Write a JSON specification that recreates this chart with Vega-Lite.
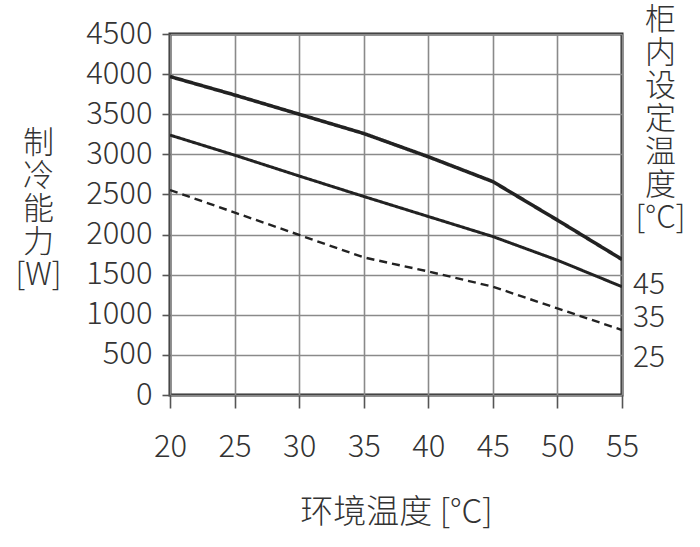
{
  "$schema": "https://vega.github.io/schema/vega-lite/v6.json",
  "width": 452,
  "height": 361,
  "autosize": "none",
  "padding": {"left": 170, "top": 34, "right": 78, "bottom": 152},
  "background": "white",
  "config": {
    "font": "Noto Sans CJK SC",
    "view": {"stroke": "#2b2b2b", "strokeWidth": 3},
    "axis": {
      "labelFont": "Noto Sans CJK SC",
      "titleFont": "Noto Sans CJK SC",
      "labelColor": "#333333",
      "titleColor": "#333333",
      "titleFontWeight": 300,
      "labelFontWeight": 300,
      "gridColor": "#8a8a8a",
      "gridWidth": 1.6,
      "gridOpacity": 1,
      "tickColor": "#555555",
      "tickWidth": 1.6,
      "domain": false
    }
  },
  "layer": [
    {
      "data": {
        "values": [
          {"t": 20, "w": 3970, "s": "45"},
          {"t": 25, "w": 3740, "s": "45"},
          {"t": 30, "w": 3500, "s": "45"},
          {"t": 35, "w": 3260, "s": "45"},
          {"t": 40, "w": 2970, "s": "45"},
          {"t": 45, "w": 2660, "s": "45"},
          {"t": 50, "w": 2180, "s": "45"},
          {"t": 55, "w": 1690, "s": "45"},
          {"t": 20, "w": 3240, "s": "35"},
          {"t": 25, "w": 2990, "s": "35"},
          {"t": 30, "w": 2730, "s": "35"},
          {"t": 35, "w": 2475, "s": "35"},
          {"t": 40, "w": 2225, "s": "35"},
          {"t": 45, "w": 1975, "s": "35"},
          {"t": 50, "w": 1680, "s": "35"},
          {"t": 55, "w": 1350, "s": "35"},
          {"t": 20, "w": 2555, "s": "25"},
          {"t": 30, "w": 1995, "s": "25"},
          {"t": 35, "w": 1715, "s": "25"},
          {"t": 40, "w": 1540, "s": "25"},
          {"t": 45, "w": 1350, "s": "25"},
          {"t": 50, "w": 1080, "s": "25"},
          {"t": 55, "w": 810, "s": "25"}
        ]
      },
      "mark": {"type": "line", "color": "#222222", "strokeCap": "butt", "clip": true},
      "encoding": {
        "x": {
          "field": "t",
          "type": "quantitative",
          "scale": {"domain": [20, 55], "nice": false, "zero": false},
          "axis": {
            "values": [20, 25, 30, 35, 40, 45, 50, 55],
            "format": "d",
            "title": "环境温度 [°C]",
            "titleFontSize": 33,
            "titleY": 117,
            "titleBaseline": "middle",
            "labelFontSize": 31,
            "labelPadding": 24,
            "tickSize": 13,
            "labelFlush": false
          }
        },
        "y": {
          "field": "w",
          "type": "quantitative",
          "scale": {"domain": [0, 4500], "nice": false},
          "axis": {
            "values": [0, 500, 1000, 1500, 2000, 2500, 3000, 3500, 4000, 4500],
            "format": "d",
            "title": ["制", "冷", "能", "力", "[W]"],
            "titleAngle": 0,
            "titleFontSize": 31,
            "titleLineHeight": 33,
            "titleX": -132,
            "titleY": 109,
            "titleAlign": "center",
            "titleBaseline": "middle",
            "labelFontSize": 31,
            "labelPadding": 10,
            "tickSize": 8
          }
        },
        "detail": {"field": "s"},
        "strokeWidth": {
          "field": "s",
          "type": "nominal",
          "scale": {"domain": ["45", "35", "25"], "range": [3.6, 2.4, 1.5]},
          "legend": null
        },
        "strokeDash": {
          "field": "s",
          "type": "nominal",
          "scale": {"domain": ["45", "35", "25"], "range": [[1, 0], [1, 0], [8, 5]]},
          "legend": null
        }
      }
    },
    {
      "data": {
        "values": [
          {"t": 55, "w": 1371, "label": "45"},
          {"t": 55, "w": 960, "label": "35"},
          {"t": 55, "w": 461, "label": "25"}
        ]
      },
      "mark": {"type": "text", "align": "left", "baseline": "middle", "dx": 11, "fontSize": 30, "fontWeight": 300, "color": "#333333", "font": "Noto Sans CJK SC"},
      "encoding": {
        "x": {"field": "t", "type": "quantitative"},
        "y": {
          "field": "w",
          "type": "quantitative",
          "axis": {
            "orient": "right",
            "labels": false,
            "ticks": false,
            "grid": false,
            "domain": false,
            "title": ["柜", "内", "设", "定", "温", "度", "[°C]"],
            "titleAngle": 0,
            "titleFontSize": 31,
            "titleLineHeight": 33,
            "titleX": 38,
            "titleY": -14,
            "titleAlign": "center",
            "titleBaseline": "middle"
          }
        },
        "text": {"field": "label"}
      }
    }
  ],
  "resolve": {"axis": {"y": "independent"}}
}
